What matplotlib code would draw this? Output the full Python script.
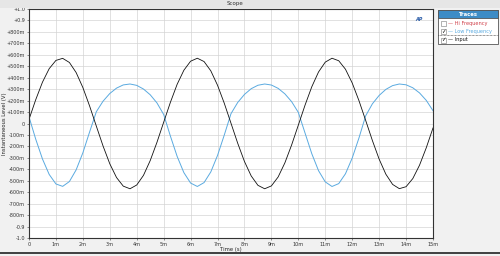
import matplotlib
matplotlib.use("Agg")
import matplotlib.pyplot as plt
from matplotlib.patches import Rectangle

# time axis, ms (read every 0.25 ms)
time_ms = [i * 0.25 for i in range(61)]

input_v = [
    0.036, 0.208, 0.361, 0.479, 0.551, 0.569, 0.533, 0.445, 0.314, 0.153,
    -0.023, -0.197, -0.352, -0.472, -0.547, -0.570, -0.537, -0.453, -0.324, -0.165,
    0.011, 0.185, 0.342, 0.465, 0.544, 0.570, 0.541, 0.460, 0.334, 0.177,
    0.002, -0.173, -0.332, -0.458, -0.540, -0.570, -0.545, -0.467, -0.344, -0.188,
    -0.014, 0.161, 0.321, 0.450, 0.536, 0.570, 0.548, 0.474, 0.354, 0.200,
    0.027, -0.149, -0.311, -0.443, -0.532, -0.569, -0.552, -0.481, -0.364, -0.212,
    -0.039,
]

low_freq_v = [
    0.058, -0.137, -0.310, -0.445, -0.528, -0.549, -0.507, -0.405, -0.256, -0.074,
    0.103, 0.195, 0.262, 0.309, 0.337, 0.345, 0.333, 0.301, 0.251, 0.180,
    0.079, -0.110, -0.287, -0.429, -0.520, -0.550, -0.516, -0.423, -0.279, -0.101,
    0.086, 0.184, 0.254, 0.304, 0.334, 0.345, 0.336, 0.307, 0.259, 0.191,
    0.097, -0.084, -0.264, -0.412, -0.510, -0.550, -0.525, -0.439, -0.302, -0.127,
    0.067, 0.172, 0.245, 0.298, 0.331, 0.345, 0.338, 0.312, 0.267, 0.202,
    0.112,
]

x_ticks = list(range(16))
x_labels = ["0"] + [f"{i}m" for i in range(1, 16)]
y_ticks = [round(-1.0 + 0.1 * i, 1) for i in range(21)]
y_labels = ["+1.0", "+0.9", "+800m", "+700m", "+600m", "+500m", "+400m", "+300m",
            "+200m", "+100m", "0", "-100m", "-200m", "-300m", "-400m", "-500m",
            "-600m", "-700m", "-800m", "-0.9", "-1.0"][::-1]

trace_names = ["Hi Frequency", "Low Frequency", "Input"]
trace_colors = ["#d0404a", "#5aaae0", "#111111"]
trace_checked = [False, True, True]

plt.rcParams["font.family"] = ["DejaVu Sans"]
bg = "#f1f1f1"
fig = plt.figure(figsize=(5, 2.56), dpi=100, facecolor=bg)

# title bar
fig.add_artist(Rectangle((0, 1 - 8 / 256), 1, 8 / 256, transform=fig.transFigure,
                         facecolor="#e6e6e6", edgecolor="none"))
fig.text(0.47, 1 - 3.5 / 256, "Scope", fontsize=4, ha="center", va="center", color="#333")
# bottom dark bar
fig.add_artist(Rectangle((0, 2 / 256), 1, 2.5 / 256, transform=fig.transFigure,
                         facecolor="#444444", edgecolor="none"))

ax = fig.add_axes([29 / 500, 1 - 238 / 256, 404 / 500, 229 / 256])
ax.set_facecolor("white")
ax.plot(time_ms, low_freq_v, color=trace_colors[1], lw=0.7)
ax.plot(time_ms, input_v, color=trace_colors[2], lw=0.6)
ax.set_xlim(0, 15)
ax.set_ylim(-1, 1)
ax.set_xticks(x_ticks)
ax.set_xticklabels(x_labels)
ax.set_yticks(y_ticks)
ax.set_yticklabels(y_labels)
ax.tick_params(labelsize=3.5, length=1.5, width=0.4, pad=1.2, colors="#333")
ax.grid(True, color="#d4d4d4", lw=0.5)
for s in ax.spines.values():
    s.set_color("#333")
    s.set_linewidth(0.8)
ax.set_xlabel("Time (s)", fontsize=3.8, labelpad=0.5, color="#222")
ax.set_ylabel("Instantaneous Level (V)", fontsize=3.8, color="#222")
ax.yaxis.set_label_coords(-0.055, 0.5)
ax.text(0.975, 0.965, "AP", transform=ax.transAxes, fontsize=3.5, color="#2a5ca8",
        ha="right", va="top", style="italic", fontweight="bold")

# traces panel
lx0, lx1 = 438 / 500, 498 / 500
ly_top, ly_bot = 1 - 10 / 256, 1 - 44 / 256
fig.add_artist(Rectangle((lx0, ly_bot), lx1 - lx0, ly_top - ly_bot, transform=fig.transFigure,
                         facecolor="white", edgecolor="#555", lw=0.6))
fig.add_artist(Rectangle((lx0, 1 - 18 / 256), lx1 - lx0, 8 / 256, transform=fig.transFigure,
                         facecolor="#3d8cc6", edgecolor="#555", lw=0.6))
fig.text((lx0 + lx1) / 2, 1 - 14 / 256, "Traces", fontsize=3.8, color="white",
         ha="center", va="center", fontweight="bold")
for i, (name, col, chk) in enumerate(zip(trace_names, trace_colors, trace_checked)):
    yc = 1 - (23 + 8.5 * i) / 256
    fig.add_artist(Rectangle((441 / 500, yc - 2.5 / 256), 5 / 500, 5 / 256,
                             transform=fig.transFigure, facecolor="white",
                             edgecolor="#777", lw=0.4))
    if chk:
        fig.text(443.5 / 500, yc, "✓", fontsize=4, ha="center", va="center", color="black")
    fig.text(448 / 500, yc, "— " + name, fontsize=3.6, color=col, va="center", ha="left")
fig.add_artist(plt.Line2D([lx0, lx1], [1 - 35 / 256] * 2, transform=fig.transFigure,
                          color="#333", lw=0.5, ls=(0, (1, 1))))

fig.savefig("out.png", dpi=100, facecolor=bg)
